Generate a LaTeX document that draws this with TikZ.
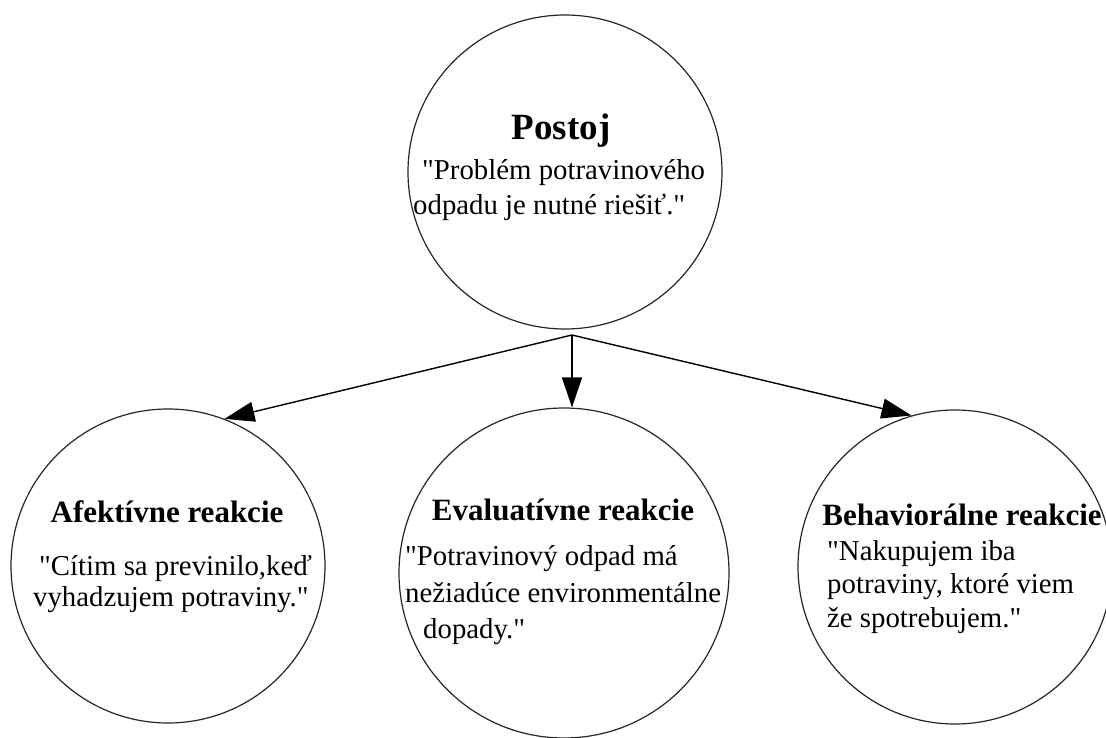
\documentclass[tikz,border=0pt]{standalone}
\usepackage{fontspec}
\setmainfont{Liberation Serif}[Ligatures=TeXOff]
\usetikzlibrary{arrows.meta}
\begin{document}
\begin{tikzpicture}[x=1pt,y=-1pt,
  circ/.style={circle,draw=black!85,line width=1.2pt,inner sep=0pt},
  ttl/.style={font=\fontsize{31}{36}\selectfont\bfseries,inner sep=0pt,anchor=base},
  body/.style={font=\fontsize{28.8}{35}\selectfont,inner sep=0pt,anchor=base west},
  arr/.style={line width=1.4pt,-{Triangle[length=30pt,width=20pt]}}]
\useasboundingbox (0,0) rectangle (1106,738);
\fill[white] (0,0) rectangle (1106,738);
% circles
\node[circ,minimum size=314pt] (top) at (565,172) {};
\node[circ,minimum size=314pt] (left) at (168,566) {};
\node[circ,minimum size=330pt] (mid) at (564,573) {};
\node[circ,minimum size=314pt] (right) at (955,567) {};
% texts
\node[ttl,font=\fontsize{37}{40}\selectfont\bfseries] (tTitle) at (561,140) {Postoj};
\node[body] (t1) at (422,180) {"Problém potravinového};
\node[body] (t2) at (413,215) {odpadu je nutné riešiť."};
\node[ttl] (lTitle) at (167,522) {Afektívne reakcie};
\node[body] (l1) at (39,575) {"Cítim sa previnilo,keď};
\node[body] (l2) at (33,606) {vyhadzujem potraviny."};
\node[ttl] (mTitle) at (563,520) {Evaluatívne reakcie};
\node[body] (m1) at (405,565) {"Potravinový odpad má};
\node[body] (m2) at (405,602) {nežiadúce environmentálne};
\node[body] (m3) at (423,638) {dopady."};
\node[ttl] (rTitle) at (962,525) {Behaviorálne reakcie};
\node[body] (r1) at (827,560) {"Nakupujem iba};
\node[body] (r2) at (827,593) {potraviny, ktoré viem};
\node[body] (r3) at (827,627) {že spotrebujem."};
% connectors
\coordinate (o) at (572,335);
\draw[arr] (o) -- (left.69);
\draw[arr] (o) -- (o |- mid.north);
\draw[arr] (o) -- (right.106);
\end{tikzpicture}
\end{document}
